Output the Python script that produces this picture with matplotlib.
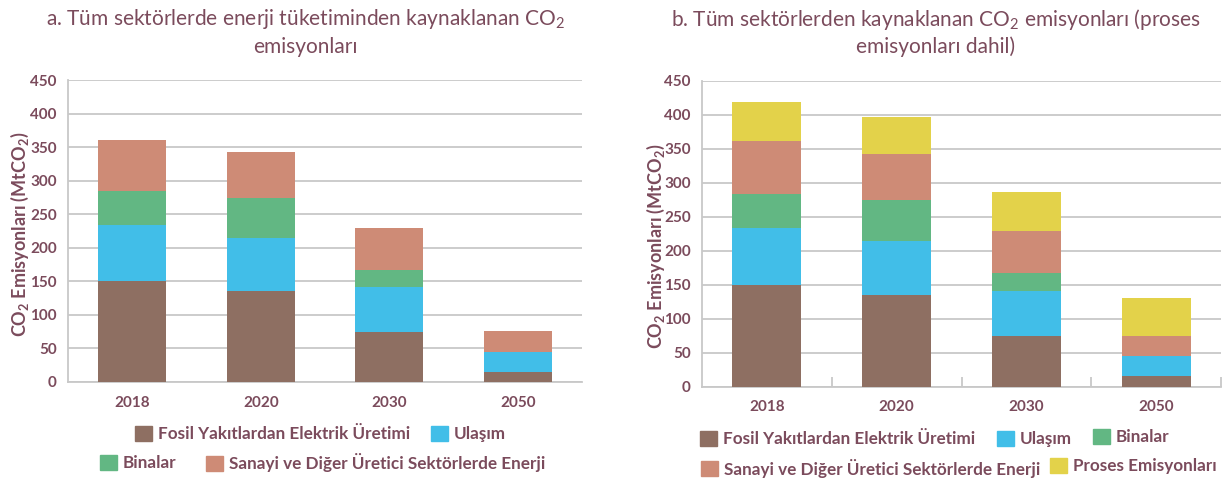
import matplotlib
matplotlib.use("Agg")
import matplotlib.pyplot as plt
from matplotlib.patches import Patch
import numpy as np

plt.rcParams['font.family'] = ['Lato', 'DejaVu Sans']
plt.rcParams['mathtext.default'] = 'regular'

years = ["2018", "2020", "2030", "2050"]
fosil = [150, 135, 74, 15]
ulasim = [83, 80, 67, 30]
binalar = [51, 59, 26, 0]
sanayi = [77, 69, 62, 30]
proses = [58, 54, 57, 56]

labels = ["Fosil Yakıtlardan Elektrik Üretimi", "Ulaşım", "Binalar",
          "Sanayi ve Diğer Üretici Sektörlerde Enerji", "Proses Emisyonları"]
colors = ["#8E6F62", "#41BEE8", "#62B783", "#CE8B76", "#E3D24A"]
TXT = "#7B4B5C"
GRID = "#C8C8C8"

W, H = 1224, 480
fig = plt.figure(figsize=(12.24, 4.8), dpi=100)
axL = fig.add_axes([68/W, 1-381.7/H, 514/W, 301.7/H])
axR = fig.add_axes([702/W, 1-386.5/H, 519/W, 305.5/H])

def draw(ax, series, width, inner_ticks, label_xy):
    x = np.arange(len(years))
    bottom = np.zeros(len(years))
    for vals, c in zip(series, colors):
        ax.bar(x, vals, width, bottom=bottom, color=c, zorder=3, linewidth=0)
        bottom += np.array(vals)
    ax.set_xlim(-0.5, len(years)-0.5)
    ax.set_ylim(0, 450)
    ax.set_yticks(np.arange(0, 451, 50))
    ax.yaxis.grid(True, color=GRID, linewidth=1.3, zorder=0)
    for s in ["top", "right"]:
        ax.spines[s].set_visible(False)
    for s in ["left", "bottom"]:
        ax.spines[s].set_color(GRID)
        ax.spines[s].set_linewidth(1.3)
    ax.set_xticks(x)
    ax.set_xticklabels(years)
    ax.tick_params(axis='x', which='major', length=0, pad=10)
    if inner_ticks:
        ax.set_xticks(np.arange(0.5, len(years), 1), minor=True)
        ax.tick_params(axis='x', which='minor', direction='in', length=7,
                       color=GRID, width=1.3)
    ax.tick_params(axis='y', length=0, pad=8)
    for t in ax.get_xticklabels() + ax.get_yticklabels():
        t.set_fontweight('bold')
        t.set_color(TXT)
        t.set_fontsize(11)
    ax.set_ylabel("CO$_2$ Emisyonları (MtCO$_2$)", color=TXT, fontsize=13,
                  fontweight='bold')
    ax.yaxis.set_label_coords(*label_xy)

draw(axL, [fosil, ulasim, binalar, sanayi], 0.53, False, (-0.072, 0.49))
draw(axR, [fosil, ulasim, binalar, sanayi, proses], 0.53, True, (-0.068, 0.46))

fig.text(305/W, 1-19/H, "a. Tüm sektörlerde enerji tüketiminden kaynaklanan CO$_2$",
         ha='center', va='center', fontsize=15, color=TXT)
fig.text(305/W, 1-47/H, "emisyonları", ha='center', va='center', fontsize=15, color=TXT)
fig.text(936/W, 1-19/H, "b. Tüm sektörlerden kaynaklanan CO$_2$ emisyonları (proses",
         ha='center', va='center', fontsize=15, color=TXT)
fig.text(936/W, 1-47/H, "emisyonları dahil)", ha='center', va='center', fontsize=15, color=TXT)

def item(i, xpx, ypx):
    leg = fig.legend(handles=[Patch(color=colors[i], label=labels[i])], loc='center left',
                     bbox_to_anchor=(xpx/W, 1-ypx/H), frameon=False,
                     prop={'weight': 'bold', 'size': 12.3}, handlelength=0.97,
                     handleheight=0.97, handletextpad=0.35,
                     borderaxespad=0, borderpad=0)
    for t in leg.get_texts():
        t.set_color(TXT)

# left legend (two rows)
item(0, 135, 434)
item(1, 431, 434)
item(2, 100, 463)
item(3, 206, 463)
# right legend (two rows)
item(0, 700, 439)
item(1, 997, 439)
item(2, 1093, 437)
item(3, 701, 468)
item(4, 1050, 466)

fig.savefig("out.png", dpi=100, facecolor='white')
